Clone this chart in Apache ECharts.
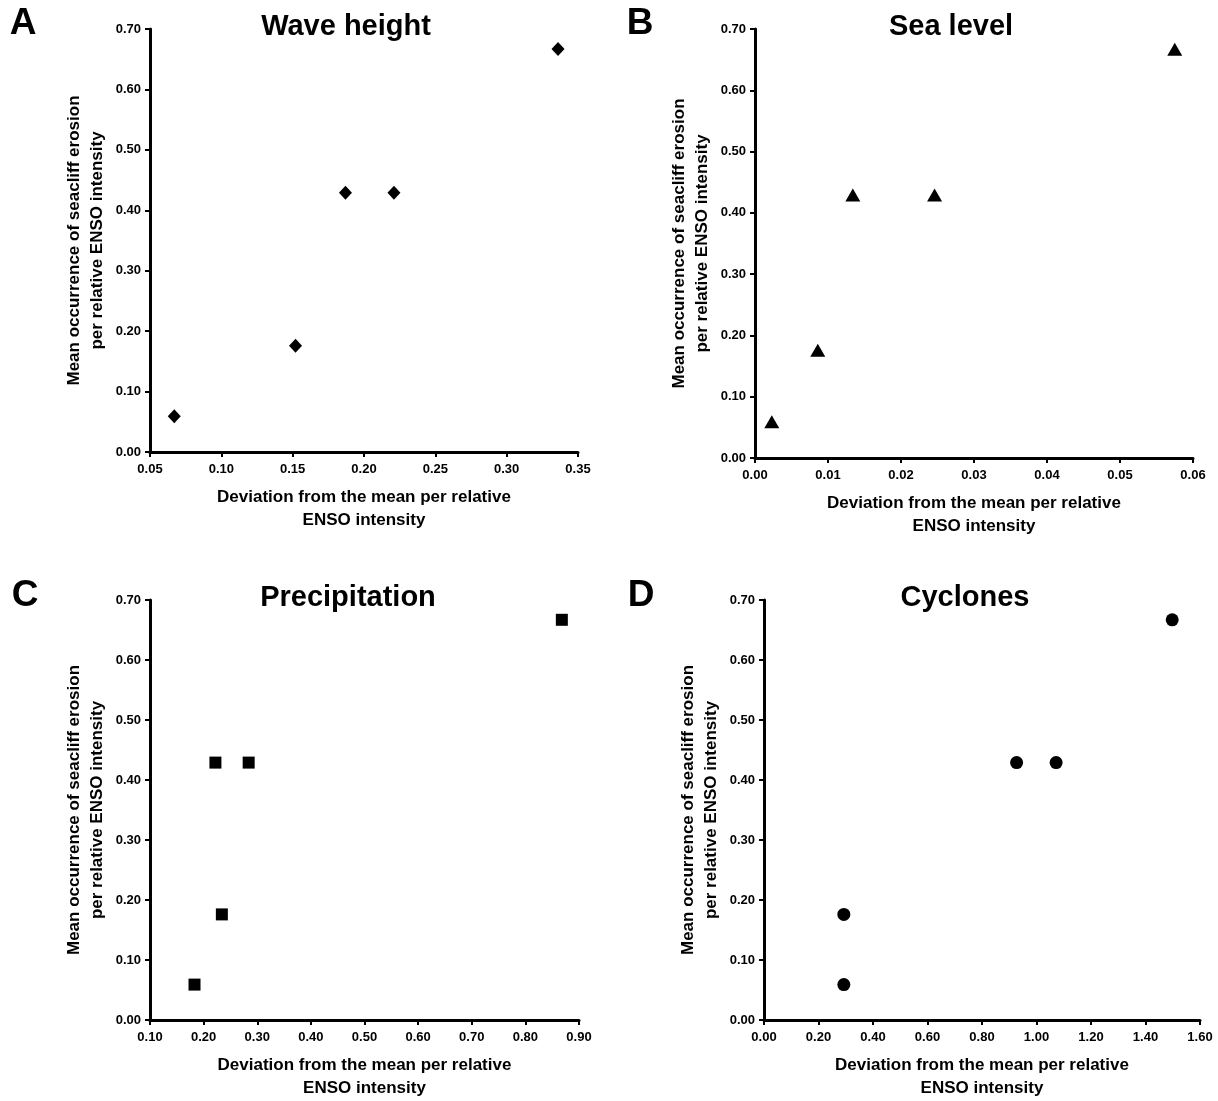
<!DOCTYPE html>
<html>
<head>
<meta charset="utf-8">
<script src="https://cdn.jsdelivr.net/npm/echarts@6/dist/echarts.min.js"></script>
<style>
html,body{margin:0;padding:0;background:#fff;}
#chart{width:1218px;height:1101px;}
</style>
</head>
<body>
<div id="chart"></div>
<script>
// ---- data ----
const panelTitles = ['Wave height', 'Sea level', 'Precipitation', 'Cyclones'];
const panelLetters = ['A', 'B', 'C', 'D'];
const xAxisTitle = 'Deviation from the mean per relative\nENSO intensity';
const yAxisTitle = 'Mean occurrence of seacliff erosion\nper relative ENSO intensity';

const waveX = [0.067, 0.152, 0.187, 0.221, 0.336];
const waveY = [0.059, 0.176, 0.429, 0.429, 0.667];
const seaX = [0.0023, 0.0086, 0.0134, 0.0246, 0.0575];
const seaY = [0.059, 0.176, 0.429, 0.429, 0.667];
const precipX = [0.183, 0.234, 0.222, 0.284, 0.868];
const precipY = [0.059, 0.176, 0.429, 0.429, 0.667];
const cycloneX = [0.293, 0.293, 0.927, 1.072, 1.498];
const cycloneY = [0.059, 0.176, 0.429, 0.429, 0.667];

// axis ranges (tick labels)
const xMin = [0.05, 0, 0.10, 0];
const xMax = [0.35, 0.06, 0.90, 1.60];
const xStep = [0.05, 0.01, 0.10, 0.20];
const yMin = 0, yMax = 0.70, yStep = 0.10;

const symbols = ['diamond', 'triangle', 'rect', 'circle'];
const symbolSizes = [[13, 14], [15, 13], [12, 12], [13, 13]];

// ---- layout ----
const FONT = 'Arial, "Liberation Sans", sans-serif';
const grids = [
  {left: 150, top: 29, width: 428, height: 423},
  {left: 755, top: 29, width: 438, height: 429},
  {left: 150, top: 600, width: 429, height: 426},
  {left: 764, top: 600, width: 436, height: 426}
];
const titlePos = [[346, 27], [951, 27], [348, 598], [965, 598]];
const letterPos = [[23, 24], [640, 24], [25, 596], [641, 596]];

const xs = [waveX, seaX, precipX, cycloneX];
const ys = [waveY, seaY, precipY, cycloneY];

const axisLineStyle = {show: true, onZero: false, lineStyle: {color: '#000', width: 3}};
const tickStyle = {show: true, length: 5, inside: false, lineStyle: {color: '#000', width: 2}};

const option = {
  backgroundColor: '#fff',
  animation: false,
  grid: grids.map(g => Object.assign({containLabel: false}, g)),
  xAxis: grids.map((g, i) => ({
    type: 'value', gridIndex: i,
    min: xMin[i], max: xMax[i], interval: xStep[i],
    axisLine: axisLineStyle, axisTick: tickStyle,
    splitLine: {show: false},
    axisLabel: {color: '#000', fontFamily: FONT, fontWeight: 'bold', fontSize: 13, margin: 11,
      formatter: v => v.toFixed(2)},
    name: xAxisTitle, nameLocation: 'middle', nameGap: 34,
    nameTextStyle: {color: '#000', fontFamily: FONT, fontWeight: 'bold', fontSize: 17, lineHeight: 23}
  })),
  yAxis: grids.map((g, i) => ({
    type: 'value', gridIndex: i,
    min: yMin, max: yMax, interval: yStep,
    axisLine: axisLineStyle, axisTick: tickStyle,
    splitLine: {show: false},
    axisLabel: {color: '#000', fontFamily: FONT, fontWeight: 'bold', fontSize: 13, margin: 9,
      formatter: v => v.toFixed(2)},
    name: yAxisTitle, nameLocation: 'middle', nameGap: 41,
    nameTextStyle: {color: '#000', fontFamily: FONT, fontWeight: 'bold', fontSize: 17, lineHeight: 23}
  })),
  series: xs.map((xArr, i) => ({
    type: 'scatter', xAxisIndex: i, yAxisIndex: i,
    symbol: symbols[i], symbolSize: symbolSizes[i],
    itemStyle: {color: '#000', opacity: 1},
    emphasis: {disabled: true},
    data: xArr.map((x, k) => [x, ys[i][k]])
  })),
  graphic: [
    ...panelTitles.map((t, i) => ({
      type: 'text', x: titlePos[i][0], y: titlePos[i][1],
      style: {text: t, fill: '#000', font: 'bold 29px ' + FONT, textAlign: 'center', textVerticalAlign: 'middle'}
    })),
    ...panelLetters.map((t, i) => ({
      type: 'text', x: letterPos[i][0], y: letterPos[i][1],
      style: {text: t, fill: '#000', font: 'bold 37px ' + FONT, textAlign: 'center', textVerticalAlign: 'middle'}
    }))
  ]
};

const chart = echarts.init(document.getElementById('chart'), null, {renderer: 'canvas'});
chart.setOption(option);
</script>
</body>
</html>
